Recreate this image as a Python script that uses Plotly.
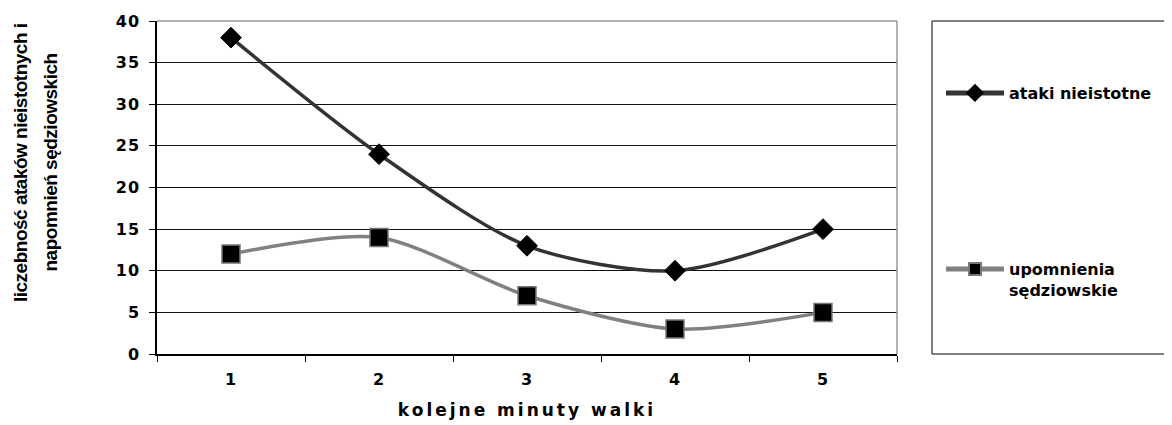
import plotly.graph_objects as go

minutes = [1, 2, 3, 4, 5]
tick_labels = ["1", "2", "3", "4", "5"]
ataki = [38, 24, 13, 10, 15]
upomnienia = [12, 14, 7, 3, 5]
y_ticks = [0, 5, 10, 15, 20, 25, 30, 35, 40]

# page geometry (browser body has an 8px margin)
OFF = 8
W, H = 1172, 425
L, R, T, B = 157, 897, 21, 354
pw, ph = R - L, B - T

def px(x):
    return (x - L) / pw

def py(y):
    return (B - y) / ph

WIDE = "DejaVu Sans, Verdana, sans-serif"
ARIAL = "Liberation Sans, Arial, sans-serif"

fig = go.Figure()
fig.add_trace(go.Scatter(
    x=minutes, y=ataki, name="ataki nieistotne", mode="lines+markers",
    line=dict(color="#333333", width=3.5, shape="spline", smoothing=0.8),
    marker=dict(symbol="diamond", size=16, color="black", line=dict(color="black", width=1)),
    legend="legend",
))
fig.add_trace(go.Scatter(
    x=minutes, y=upomnienia, name="upomnienia<br>sędziowskie", mode="lines+markers",
    line=dict(color="#808080", width=3.5, shape="spline", smoothing=0.8),
    marker=dict(symbol="square", size=18, color="black", line=dict(color="#777777", width=1.5)),
    legend="legend2",
))

legend_font = dict(family=WIDE, size=16, color="black", weight="bold")
tick_font = dict(family=WIDE, size=16, color="black", weight="bold")
fig.update_layout(
    template="none",
    width=W - OFF, height=H - OFF,
    margin=dict(l=L - OFF, r=W - R, t=T - OFF, b=H - B, pad=0, autoexpand=False),
    paper_bgcolor="white", plot_bgcolor="white",
    showlegend=True,
    legend=dict(x=px(941), y=py(93), xanchor="left", yanchor="middle",
                font=legend_font, itemwidth=58, itemsizing="constant",
                bgcolor="rgba(0,0,0,0)", borderwidth=0),
    legend2=dict(x=px(941), y=py(252), xanchor="left", yanchor="top", valign="top",
                 font=legend_font, itemwidth=58, itemsizing="constant",
                 bgcolor="rgba(0,0,0,0)", borderwidth=0),
    xaxis=dict(
        automargin=False,
        range=[0.5, 5.5], tickmode="array", tickvals=minutes, ticktext=tick_labels,
        ticks="", showgrid=False, zeroline=False,
        showline=True, linecolor="black", linewidth=1.5,
        ticklabelstandoff=10,
        tickfont=tick_font,
        minor=dict(tick0=0.5, dtick=1, ticks="outside", ticklen=6, tickcolor="black", showgrid=False),
        title=dict(text="kolejne minuty walki", standoff=16,
                   font=dict(family=WIDE, size=17, color="black", weight="bold")),
    ),
    yaxis=dict(
        automargin=False,
        range=[0, 40], tickmode="array", tickvals=y_ticks,
        ticks="outside", ticklen=6, tickcolor="black",
        showgrid=True, gridcolor="#111111", gridwidth=1, zeroline=False,
        showline=True, linecolor="black", linewidth=1.5,
        ticklabelstandoff=6,
        tickfont=tick_font,
    ),
    shapes=[
        dict(type="line", xref="paper", yref="paper", x0=0, x1=1, y0=1, y1=1,
             line=dict(color="#999999", width=1.5), layer="above"),
        dict(type="line", xref="paper", yref="paper", x0=1, x1=1, y0=0, y1=1,
             line=dict(color="#999999", width=1.5), layer="above"),
        dict(type="rect", xref="paper", yref="paper", x0=px(932), x1=px(1185), y0=py(354), y1=py(21),
             line=dict(color="black", width=1), fillcolor="rgba(0,0,0,0)"),
    ],
    annotations=[
        dict(text="liczebność ataków nieistotnych i", textangle=-90, showarrow=False,
             xref="paper", yref="paper", x=px(20), y=py(163), xanchor="center", yanchor="middle",
             font=dict(family=ARIAL, size=19, color="black", weight="bold")),
        dict(text="napomnień sędziowskich", textangle=-90, showarrow=False,
             xref="paper", yref="paper", x=px(50), y=py(163), xanchor="center", yanchor="middle",
             font=dict(family=ARIAL, size=19, color="black", weight="bold")),
    ],
)

post = """
var gd = document.getElementById('{plot_id}');
function spacing(){
  gd.querySelectorAll('.xtitle').forEach(function(e){ e.setAttribute('letter-spacing','3px'); });
  gd.querySelectorAll('.xtick text, .ytick text').forEach(function(e){ e.setAttribute('letter-spacing','1px'); });
  gd.querySelectorAll('.annotation-text').forEach(function(e){ e.setAttribute('letter-spacing','-0.5px'); });
}
spacing();
gd.on('plotly_afterplot', spacing);
"""

fig.write_html("out.html", post_script=post)
